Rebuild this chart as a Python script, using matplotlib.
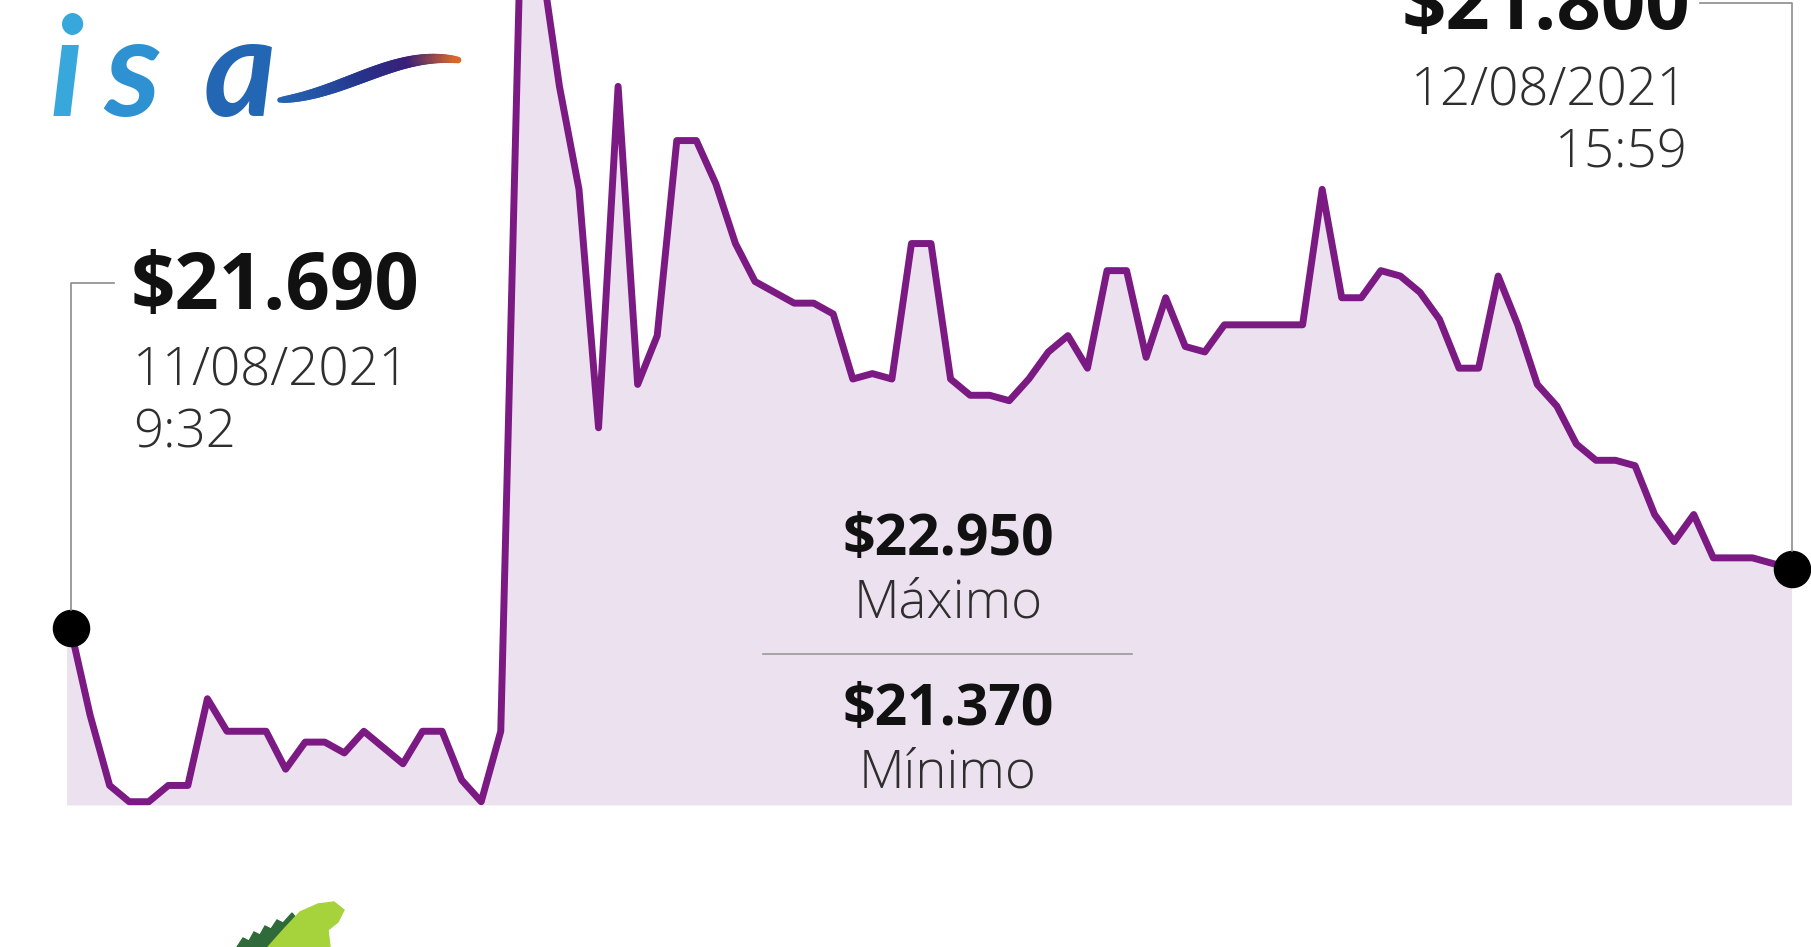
import matplotlib
matplotlib.use("Agg")
import matplotlib.pyplot as plt
import numpy as np
from matplotlib.collections import LineCollection
from matplotlib.colors import LinearSegmentedColormap
from matplotlib.lines import Line2D
from matplotlib.patches import Polygon

W, H = 1811, 947

# ISA share price, 11/08/2021 9:32 -> 12/08/2021 15:59 (COP)
prices = [
    21690, 21530, 21400, 21370, 21370, 21400, 21400, 21560, 21500, 21500,
    21500, 21430, 21480, 21480, 21460, 21500, 21470, 21440, 21500, 21500,
    21410, 21370, 21500, 22950, 22940, 22690, 22500, 22060, 22690, 22140,
    22230, 22590, 22590, 22510, 22400, 22330, 22310, 22290, 22290, 22270,
    22150, 22160, 22150, 22400, 22400, 22150, 22120, 22120, 22110, 22150,
    22200, 22230, 22170, 22350, 22350, 22190, 22300, 22210, 22200, 22250,
    22250, 22250, 22250, 22250, 22500, 22300, 22300, 22350, 22340, 22310,
    22260, 22170, 22170, 22340, 22250, 22140, 22100, 22030, 22000, 22000,
    21990, 21900, 21850, 21900, 21820, 21820, 21820, 21810, 21800,
]
first_label = ["$21.690", "11/08/2021", "9:32"]
last_label = ["$21.800", "12/08/2021", "15:59"]
max_label = ["$22.950", "Máximo"]
min_label = ["$21.370", "Mínimo"]

LINE = "#7b1a83"
FILL = "#ece1ef"
GREY = "#8c8c8c"
DARK = "#111111"
SOFT = "#2e2e2e"

plt.rcParams["font.family"] = ["Open Sans", "DejaVu Sans"]

fig = plt.figure(figsize=(W / 100, H / 100), dpi=100)
ax = fig.add_axes([0, 0, 1, 1])
ax.axis("off")

x = np.arange(len(prices))
fill_x = np.concatenate([[x[0] - 0.2], x])
fill_y = np.concatenate([[prices[0]], prices])
ax.fill_between(fill_x, fill_y, min(prices) - 6, color=FILL, lw=0, zorder=1)
ax.plot(x, prices, color=LINE, lw=5.0, zorder=2)
ax.plot([x[0], x[-1]], [prices[0], prices[-1]], "o", ms=26, color="black", zorder=5)
ax.set_xlim(-3.605, 88.996)
ax.set_ylim(21101.9, 22849.4)


def fpx(px, py):
    # pixel from top-left -> figure fraction
    return px / W, 1 - py / H


def text(px, py, s, size, weight, color, ha="left"):
    fig.text(*fpx(px, py), s, fontsize=size, fontweight=weight, color=color,
             ha=ha, va="baseline")


# start / end labels with connectors
x0, y0 = ax.transData.transform((x[0], prices[0]))
x1, y1 = ax.transData.transform((x[-1], prices[-1]))
fig.add_artist(Line2D([x0 / W, x0 / W, 114 / W], [(y0 + 18) / H, 1 - 283 / H, 1 - 283 / H],
                      color=GREY, lw=1.2))
fig.add_artist(Line2D([1700 / W, x1 / W, x1 / W], [1 - 3.5 / H, 1 - 3.5 / H, (y1 + 18) / H],
                      color=GREY, lw=1.2))

text(131, 309, first_label[0], 56, "bold", DARK)
text(133, 386, first_label[1], 38, "light", SOFT)
text(133, 447, first_label[2], 38, "light", SOFT)

text(1690, 29, last_label[0], 56, "bold", DARK, ha="right")
text(1688, 105, last_label[1], 38, "light", SOFT, ha="right")
text(1688, 167, last_label[2], 38, "light", SOFT, ha="right")

# max / min box
text(948, 555, max_label[0], 41, "bold", DARK, ha="center")
text(948, 618, max_label[1], 38, "light", SOFT, ha="center")
fig.add_artist(Line2D([763 / W, 1132 / W], [1 - 654 / H, 1 - 654 / H], color="#9a9a9a", lw=1.2))
text(948, 725, min_label[0], 41, "bold", DARK, ha="center")
text(948, 787, min_label[1], 38, "light", SOFT, ha="center")

# isa logo
for ch, px, c in [("i", 50, "#38a8dc"), ("s", 104, "#2e92d2"), ("a", 204, "#2266b4")]:
    fig.text(*fpx(px, 116), ch, fontsize=100, fontstyle="italic", fontweight="bold",
             color=c, family=["Lato", "DejaVu Sans"], va="baseline")
t = np.linspace(0, 1, 60)
bx = (1 - t) ** 3 * 280 + 3 * (1 - t) ** 2 * t * 345 + 3 * (1 - t) * t ** 2 * 395 + t ** 3 * 458
by = (1 - t) ** 3 * 100 + 3 * (1 - t) ** 2 * t * 94 + 3 * (1 - t) * t ** 2 * 50 + t ** 3 * 60
pts = np.column_stack([bx / W, 1 - by / H])
segs = np.stack([pts[:-1], pts[1:]], axis=1)
swoosh_cmap = LinearSegmentedColormap.from_list(
    "swoosh", ["#2463b0", "#25348c", "#3a1f78", "#d8682a"])
lc = LineCollection(segs, cmap=swoosh_cmap, linewidths=4 + 5 * np.sin(np.pi * t[:-1]) ** 0.6,
                    transform=fig.transFigure, capstyle="round")
lc.set_array(t[:-1] ** 1.4)
fig.add_artist(lc)

# iguana peeking in at the bottom
spikes = [(237, 947), (243, 938), (249, 941), (254, 932), (260, 935), (265, 926),
          (271, 929), (277, 920), (283, 923), (292, 913), (302, 925), (292, 947)]
head = [(268, 947), (285, 928), (300, 912), (318, 904), (334, 902), (344, 910),
        (338, 922), (328, 930), (330, 947)]
fig.add_artist(Polygon([fpx(*p) for p in spikes], closed=True, color="#2f6b3a",
                       transform=fig.transFigure))
fig.add_artist(Polygon([fpx(*p) for p in head], closed=True, color="#a6d33c",
                       transform=fig.transFigure))

fig.savefig("out.png", dpi=100, facecolor="white")
